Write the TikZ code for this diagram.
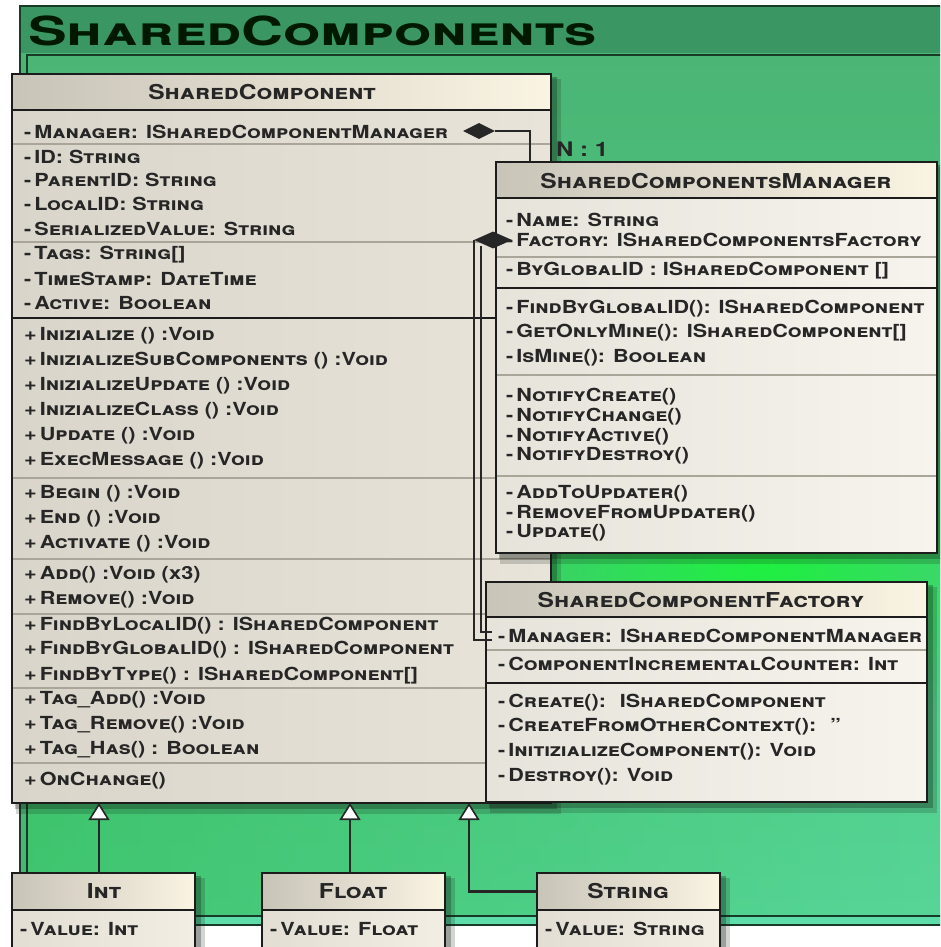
\documentclass[tikz,border=0pt]{standalone}
\usepackage{fontspec}
\setmainfont{TeX Gyre Heros}[FakeStretch=1.2]
\newfontfamily\titlefamily{TeX Gyre Heros}[FakeStretch=1.45]
\usetikzlibrary{arrows.meta,shapes.geometric,fadings,calc}

\definecolor{ink}{HTML}{262626}
\definecolor{boxline}{HTML}{1C1C1C}
\definecolor{headL}{HTML}{C8C4B8}
\definecolor{headR}{HTML}{FAF4E3}
\definecolor{headedge}{HTML}{9A968A}
\definecolor{bodyL}{HTML}{E6E3DB}
\definecolor{bodyR}{HTML}{F7F4ED}
\definecolor{scbodyL}{HTML}{D9D5CA}
\definecolor{scbodyR}{HTML}{E8E4DA}
\definecolor{smallL}{HTML}{E2DED3}
\definecolor{smallR}{HTML}{F2EEE4}
\definecolor{sepgrey}{HTML}{A9A599}
\definecolor{framedark}{HTML}{173B26}
\definecolor{bandgreen}{HTML}{3A9663}
\definecolor{paneltop}{HTML}{4BB575}
\definecolor{panelmid}{HTML}{4CC77E}
\definecolor{panelbot}{HTML}{58D69A}
\definecolor{leftgreen}{HTML}{2DB84E}
\definecolor{glowgreen}{HTML}{1EF040}
\definecolor{rimgreen}{HTML}{5CDDAA}
\definecolor{shadowcol}{HTML}{101810}

\newcommand\rowfont{\fontsize{18}{19}\selectfont\bfseries\scshape}
\newcommand\headfont{\fontsize{20.5}{22}\selectfont\bfseries\scshape}
\newcommand\pkgfont{\titlefamily\fontsize{40}{42}\selectfont\bfseries\scshape}
% visibility marks followed by a narrow gap
\newcommand\priv{-\kern3pt}
\newcommand\publ{+\kern3pt}

\tikzfading[name=glowfade, inner color=transparent!0, outer color=transparent!100]
\tikzfading[name=leftfade, left color=transparent!0, right color=transparent!100]

\tikzset{
  classbody/.style={anchor=north west, inner sep=0, outer sep=0, left color=bodyL, right color=bodyR},
  scbody/.style={left color=scbodyL, right color=scbodyR},
  smallbody/.style={left color=smallL, right color=smallR},
  classhead/.style={anchor=north west, inner sep=0, outer sep=0, left color=headL, right color=headR, draw=headedge, line width=1pt},
  boxborder/.style={draw=boxline, line width=2.6pt},
  septhin/.style={draw=sepgrey, line width=1.2pt},
  septhick/.style={draw=boxline, line width=2pt},
  row/.style={anchor=west, inner sep=0, text=ink, font=\rowfont},
  headtitle/.style={inner sep=0, text=ink, font=\headfont},
  link/.style={draw=ink, line width=2.8pt},
  linkthin/.style={draw=ink, line width=1.6pt},
  compdiamond/.style={diamond, fill=ink, inner sep=0, minimum width=32pt, minimum height=16pt},
  genarrow/.style={draw=ink, line width=2.4pt, -{Triangle[width=21pt,length=17pt,fill=white,line width=1.6pt]}},
  mult/.style={anchor=west, inner sep=0, text=ink, font=\fontsize{20}{20}\selectfont\bfseries}
}

% class box: optional body style, name, x1, y1, x2, y2, header bottom
\newcommand\umlclass[7][]{%
  \fill[shadowcol, opacity=.18] ({#3+4},{#4+5}) rectangle ({#5+10},{#6+11});
  \fill[shadowcol, opacity=.28] ({#3+3},{#4+3}) rectangle ({#5+6},{#6+6});
  \node[classbody,#1, minimum width={#5-#3}, minimum height={#6-#4}] (#2) at (#3,#4) {};
  \node[classhead, minimum width={#5-#3}, minimum height={#7-#4}] (#2-head) at (#3,#4) {};
  \draw[septhick] (#2-head.south west) -- (#2-head.south east);
  \draw[boxborder] (#2.north west) rectangle (#2.south east);
}
\newcommand\umlrow[4]{\node[row] (#1) at (#2,#3) {#4};}

\begin{document}
\begin{tikzpicture}[x=1pt,y=-1pt]
\clip (0,0) rectangle (940,947);
\fill[white] (0,0) rectangle (940,947);

% package frame
\fill[paneltop] (20,6) rectangle (960,925);
\fill[rimgreen] (20,916) rectangle (960,925);
\fill[bandgreen] (20,6) rectangle (960,53);
\shade[top color=paneltop, bottom color=panelbot, middle color=panelmid] (27,55) rectangle (960,916);
\fill[leftgreen, opacity=.55, path fading=leftfade] (27,420) rectangle (960,916);
\fill[glowgreen, path fading=glowfade] (760,565) ellipse [x radius=300, y radius=170];
\draw[framedark, line width=2.5pt] (27,55) rectangle (960,916);
\draw[framedark, line width=2.5pt] (20,6) rectangle (960,925);
\node[anchor=west, inner sep=0, text=black!90!green, font=\pkgfont] (pkg) at (28,31) {SharedComponents};

% SharedComponent
\umlclass[scbody]{sc}{12}{74}{551}{803}{110}
\node[headtitle] (sc-title) at (262,92) {SharedComponent};
\foreach \yy in {144,242,478,559,614,688,763} \draw[septhin] (13,\yy) -- (550,\yy);
\draw[septhick] (13,318) -- (550,318);
\umlrow{sc-a1}{24}{132}{\priv Manager: ISharedComponentManager}
\umlrow{sc-a2}{24}{157}{\priv ID: String}
\umlrow{sc-a3}{24}{180}{\priv ParentID: String}
\umlrow{sc-a4}{24}{204}{\priv LocalID: String}
\umlrow{sc-a5}{24}{229}{\priv SerializedValue: String}
\umlrow{sc-a6}{24}{255}{\priv Tags: String[]}
\umlrow{sc-a7}{24}{279}{\priv TimeStamp: DateTime}
\umlrow{sc-a8}{24}{303}{\priv Active: Boolean}
\umlrow{sc-m1}{24}{336}{\publ Inizialize () :Void}
\umlrow{sc-m2}{24}{361}{\publ InizializeSubComponents () :Void}
\umlrow{sc-m3}{24}{386}{\publ InizializeUpdate () :Void}
\umlrow{sc-m4}{24}{411}{\publ InizializeClass () :Void}
\umlrow{sc-m5}{24}{436}{\publ Update () :Void}
\umlrow{sc-m6}{24}{461}{\publ ExecMessage () :Void}
\umlrow{sc-m7}{24}{494}{\publ Begin () :Void}
\umlrow{sc-m8}{24}{519}{\publ End () :Void}
\umlrow{sc-m9}{24}{544}{\publ Activate () :Void}
\umlrow{sc-m10}{24}{575}{\publ Add() :Void (x3)}
\umlrow{sc-m11}{24}{600}{\publ Remove() :Void}
\umlrow{sc-m12}{24}{626}{\publ FindByLocalID() : ISharedComponent}
\umlrow{sc-m13}{24}{650}{\publ FindByGlobalID() : ISharedComponent}
\umlrow{sc-m14}{24}{676}{\publ FindByType() : ISharedComponent[]}
\umlrow{sc-m15}{24}{700}{\publ Tag\_Add() :Void}
\umlrow{sc-m16}{24}{725}{\publ Tag\_Remove() :Void}
\umlrow{sc-m17}{24}{750}{\publ Tag\_Has() : Boolean}
\umlrow{sc-m18}{24}{781}{\publ OnChange()}

% SharedComponentsManager
\umlclass{mgr}{496}{162}{937}{553}{198}
\node[headtitle] (mgr-title) at (716,181) {SharedComponentsManager};
\foreach \yy in {257,375,476} \draw[septhin] (497,\yy) -- (936,\yy);
\draw[septhick] (497,288) -- (936,288);
\umlrow{mgr-a1}{506}{220}{\priv Name: String}
\umlrow{mgr-a2}{506}{240}{\priv Factory: ISharedComponentsFactory}
\umlrow{mgr-a3}{506}{271}{\priv ByGlobalID : ISharedComponent []}
\umlrow{mgr-m1}{506}{309}{\priv FindByGlobalID(): ISharedComponent}
\umlrow{mgr-m2}{506}{333}{\priv GetOnlyMine(): ISharedComponent[]}
\umlrow{mgr-m3}{506}{358}{\priv IsMine(): Boolean}
\umlrow{mgr-m4}{506}{397}{\priv NotifyCreate()}
\umlrow{mgr-m5}{506}{417}{\priv NotifyChange()}
\umlrow{mgr-m6}{506}{437}{\priv NotifyActive()}
\umlrow{mgr-m7}{506}{456}{\priv NotifyDestroy()}
\umlrow{mgr-m8}{506}{494}{\priv AddToUpdater()}
\umlrow{mgr-m9}{506}{514}{\priv RemoveFromUpdater()}
\umlrow{mgr-m10}{506}{533}{\priv Update()}

% SharedComponentFactory
\umlclass{fac}{486}{582}{927}{802}{617}
\node[headtitle] (fac-title) at (701,600) {SharedComponentFactory};
\draw[septhin] (487,650) -- (926,650);
\draw[septhick] (487,683) -- (926,683);
\umlrow{fac-a1}{498}{636}{\priv Manager: ISharedComponentManager}
\umlrow{fac-a2}{498}{664}{\priv ComponentIncrementalCounter: Int}
\umlrow{fac-m1}{498}{703}{\priv Create(): \ ISharedComponent}
\umlrow{fac-m2}{498}{727}{\priv CreateFromOtherContext(): \ \symbol{34}}
\umlrow{fac-m3}{498}{752}{\priv InitizializeComponent(): Void}
\umlrow{fac-m4}{498}{777}{\priv Destroy(): Void}

% value types
\umlclass[smallbody]{int}{12}{873}{195}{960}{910}
\node[headtitle] (int-title) at (104,891) {Int};
\umlrow{int-v}{20}{929}{\priv Value: Int}
\umlclass[smallbody]{flt}{262}{873}{445}{960}{910}
\node[headtitle] (flt-title) at (353,891) {Float};
\umlrow{flt-v}{270}{929}{\priv Value: Float}
\umlclass[smallbody]{str}{537}{873}{720}{960}{910}
\node[headtitle] (str-title) at (628,891) {String};
\umlrow{str-v}{545}{929}{\priv Value: String}

% composition: component -> manager
\node[compdiamond] (d1) at (479,131) {};
\draw[link] (d1.east) -| ([xshift=34pt]mgr.north west);
\node[mult] (nto1) at (556,149) {N : 1};

% composition: manager -> factory
\draw[link] (474,240) |- ([xshift=-6pt,yshift=-4pt]fac-a1.west);
\draw[linkthin] (481,246) |- ([xshift=-6pt,yshift=4pt]fac-a1.west);
\node[compdiamond, minimum width=38pt, minimum height=17pt] (d2) at (493,240) {};

% generalisation
\coordinate (gint) at (99,803);
\coordinate (gflt) at (350,803);
\coordinate (gstr) at (469,803);
\draw[genarrow] (int.north -| gint) -- (gint);
\draw[genarrow] (flt.north -| gflt) -- (gflt);
\draw[genarrow] (str-head.west) -| (gstr);
\end{tikzpicture}
\end{document}
